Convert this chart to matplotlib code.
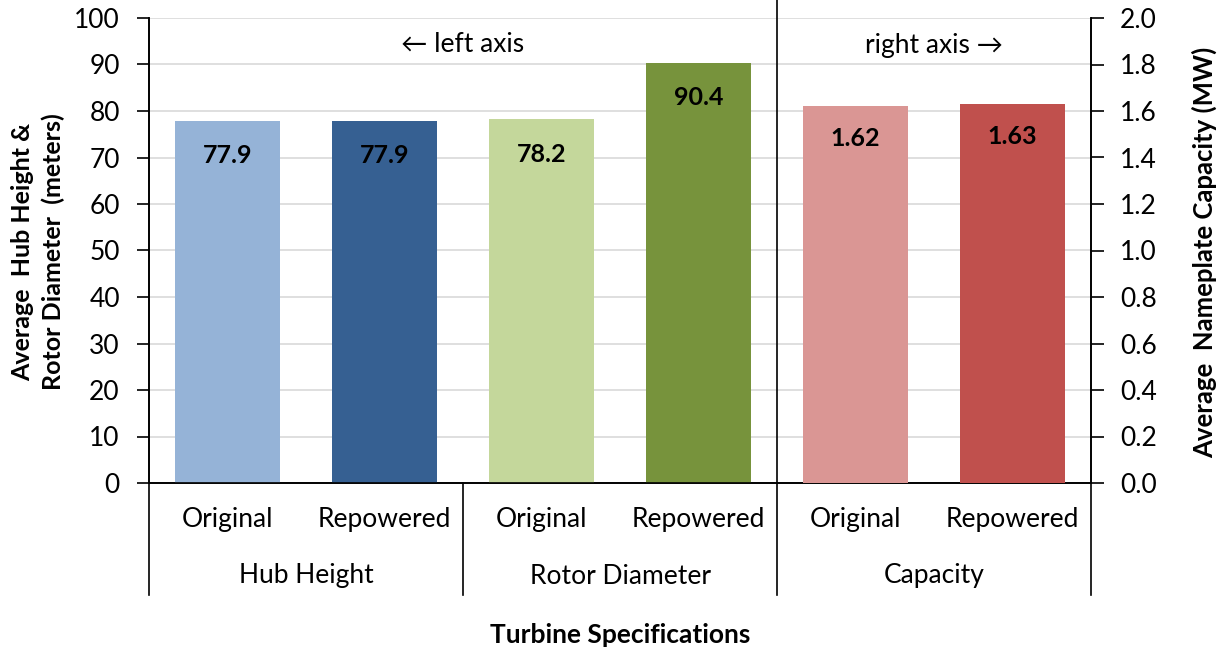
import matplotlib.pyplot as plt
import numpy as np

plt.rcParams['font.family'] = ['Lato', 'DejaVu Sans']

# data
groups = ['Hub Height', 'Rotor Diameter', 'Capacity']
kinds = ['Original', 'Repowered', 'Original', 'Repowered', 'Original', 'Repowered']
left_vals = [77.9, 77.9, 78.2, 90.4]      # meters
right_vals = [1.62, 1.63]                 # MW
colors = ['#95B3D7', '#366092', '#C4D79B', '#77933C', '#DA9694', '#C0504D']

fig = plt.figure(figsize=(12.25, 6.53), dpi=100)
ax = fig.add_axes([149/1225, 1-483/653, 942/1225, 465/653])
ax2 = ax.twinx()

x = np.arange(6)
w = 0.675
b1 = ax.bar(x[:4], left_vals, w, color=colors[:4], zorder=3)
b2 = ax2.bar(x[4:], right_vals, w, color=colors[4:], zorder=3)

ax.set_xlim(-0.5, 5.5)
ax.set_ylim(0, 100)
ax.set_yticks(np.arange(0, 101, 10))
ax2.set_ylim(0, 2.0)
ax2.set_yticks(np.arange(0, 2.01, 0.2))
ax2.set_yticklabels(['%.1f' % v for v in np.arange(0, 2.01, 0.2)])

ax.yaxis.grid(True, color='#d9d9d9', lw=1.2, zorder=0)
ax.set_axisbelow(True)
for a in (ax, ax2):
    a.spines['top'].set_visible(False)
    a.tick_params(axis='y', labelsize=19, length=9, width=1.2, direction='out', pad=12)
    a.spines['left'].set_linewidth(1.2)
    a.spines['right'].set_linewidth(1.2)
    a.spines['bottom'].set_linewidth(1.2)
ax.set_xticks([])
ax2.set_xticks([])

# value labels
for bar, v in zip(b1, left_vals):
    ax.annotate('%.1f' % v, (bar.get_x() + bar.get_width()/2, v), xytext=(0, -35),
                textcoords='offset pixels', ha='center', va='center',
                fontsize=18, fontweight='bold', zorder=5)
for bar, v in zip(b2, right_vals):
    ax2.annotate('%.2f' % v, (bar.get_x() + bar.get_width()/2, v), xytext=(0, -32),
                 textcoords='offset pixels', ha='center', va='center',
                 fontsize=18, fontweight='bold', zorder=5)

# separators
trans = ax.get_xaxis_transform()
low = -112/465
ax2.plot([3.5, 3.5], [low, 2.0], color='black', lw=1.2, transform=ax.get_xaxis_transform(), clip_on=False, zorder=4)
for xs in (-0.5, 1.5, 5.5):
    ax.plot([xs, xs], [low, 0], color='black', lw=1.2, transform=trans, clip_on=False)

for xi, k in zip(x, kinds):
    ax.text(xi, -36/465, k, transform=trans, ha='center', va='center', fontsize=19)
for gi, g in enumerate(groups):
    ax.text(2*gi + 0.5, -93/465, g, transform=trans, ha='center', va='center', fontsize=19)

ax.text(1.5, 1 - 27/465, '\u2190 left axis', transform=trans, ha='center', va='center', fontsize=19)
ax.text(4.5, 1 - 27/465, 'right axis \u2192', transform=trans, ha='center', va='center', fontsize=19)

fig.text(620/1225, 1 - 635/653, 'Turbine Specifications', ha='center', va='center',
         fontsize=19, fontweight='bold')
fig.text(38/1225, 1 - 252/653, 'Average  Hub Height &\nRotor Diameter  (meters)', ha='center',
         va='center', rotation=90, fontsize=18, fontweight='bold', linespacing=1.4)
fig.text(1204/1225, 1 - 252/653, 'Average  Nameplate Capacity (MW)', ha='center',
         va='center', rotation=90, fontsize=18.5, fontweight='bold')

fig.savefig('out.png', dpi=100)
